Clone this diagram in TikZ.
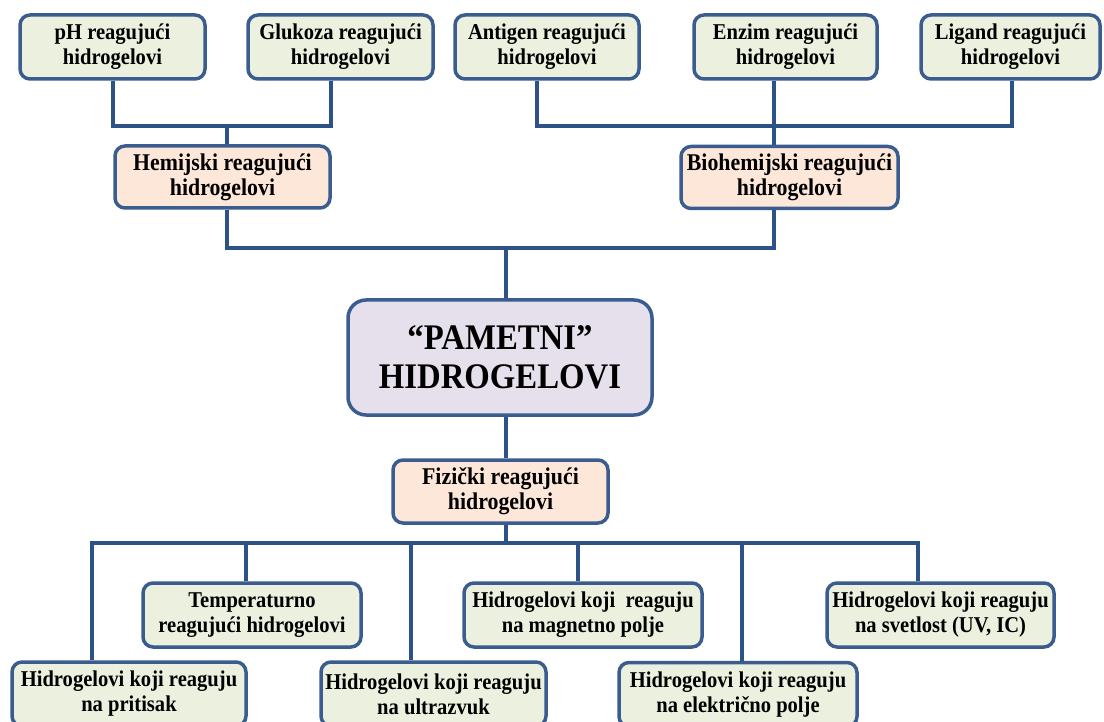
\documentclass[tikz,border=0pt]{standalone}
\usepackage{fontspec}
\setmainfont{Liberation Serif}[FakeStretch=0.91]
\usetikzlibrary{backgrounds}
\definecolor{ln}{RGB}{44,82,136}
\definecolor{bd}{RGB}{58,92,142}
\definecolor{gfill}{RGB}{235,241,222}
\definecolor{pfill}{RGB}{252,231,216}
\definecolor{lfill}{RGB}{229,224,236}
\begin{document}
\begin{tikzpicture}[x=1pt,y=-1pt,
  box/.style={draw=bd, line width=3.5pt, rounded corners=10pt, align=center, inner sep=0pt,
    font=\bfseries\fontsize{22.6}{25}\selectfont},
  gbox/.style={box, fill=gfill, minimum height=64pt},
  pbox/.style={box, fill=pfill, minimum height=62pt, font=\bfseries\fontsize{24}{25}\selectfont},
  mbox/.style={box, fill=lfill, rounded corners=18pt, font=\bfseries\fontsize{36}{39}\selectfont},
  conn/.style={draw=ln, line width=4pt, line join=miter}]
\useasboundingbox (0,0) rectangle (1104,722);
\clip (0,0) rectangle (1104,722);

% top row
\node[gbox, minimum width=185pt] (ph)  at (112.5,47) {pH reagujući\\hidrogelovi};
\node[gbox, minimum width=185pt] (glu) at (340.5,47) {Glukoza reagujući\\hidrogelovi};
\node[gbox, minimum width=184pt] (ant) at (547,47)   {Antigen reagujući\\hidrogelovi};
\node[gbox, minimum width=183pt] (enz) at (785.5,47) {Enzim reagujući\\hidrogelovi};
\node[gbox, minimum width=179pt] (lig) at (1010.5,47) {Ligand reagujući\\hidrogelovi};

% second level
\node[pbox, minimum width=215pt] (hem) at (222.5,177) {Hemijski reagujući\\hidrogelovi};
\node[pbox, minimum width=217pt] (bio) at (789.5,177.5) {Biohemijski reagujući\\hidrogelovi};

% centre
\node[mbox, minimum width=304pt, minimum height=115pt] (pam) at (500,357.5) {“PAMETNI”\\HIDROGELOVI};

% physical
\node[pbox, minimum width=215pt, minimum height=63pt] (fiz) at (500.5,491.5) {Fizički reagujući\\hidrogelovi};

% bottom
\node[gbox, minimum width=218pt] (temp)  at (252,615)   {Temperaturno\\reagujući hidrogelovi};
\node[gbox, minimum width=238pt] (mag)   at (583,615)   {Hidrogelovi koji~ reaguju\\na magnetno polje};
\node[gbox, minimum width=227pt] (svet)  at (940.5,615) {Hidrogelovi koji reaguju\\na svetlost (UV, IC)};
\node[gbox, minimum width=234pt] (prit)  at (129,694)   {Hidrogelovi koji reaguju\\na pritisak};
\node[gbox, minimum width=225pt] (ultra) at (433.5,694) {Hidrogelovi koji reaguju\\na ultrazvuk};
\node[gbox, minimum width=238pt] (elek)  at (738,694.5) {Hidrogelovi koji reaguju\\na električno polje};

% coordinates for connector lines
\coordinate (xph) at (113,0);
\coordinate (xglu) at (331,0);
\coordinate (xhem) at (227,0);
\coordinate (xant) at (537,0);
\coordinate (xenz) at (774,0);
\coordinate (xlig) at (1012,0);
\coordinate (xmid) at (506,0);
\coordinate (xprit) at (92,0);
\coordinate (xtemp) at (246,0);
\coordinate (xultra) at (411,0);
\coordinate (xmag) at (578,0);
\coordinate (xelek) at (742,0);
\coordinate (xsvet) at (918,0);
\coordinate (ytop) at (0,126);
\coordinate (ymid) at (0,248);
\coordinate (ybot) at (0,543);

\begin{scope}[on background layer]
\draw[conn] (ph.south -| xph) -- (ytop -| xph) -- (ytop -| xglu) -- (glu.south -| xglu);
\draw[conn] (ytop -| xhem) -- (hem.north -| xhem);
\draw[conn] (ant.south -| xant) -- (ytop -| xant) -- (ytop -| xlig) -- (lig.south -| xlig);
\draw[conn] (enz.south -| xenz) -- (bio.north -| xenz);
\draw[conn] (hem.south -| xhem) -- (ymid -| xhem) -- (ymid -| xenz) -- (bio.south -| xenz);
\draw[conn] (ymid -| xmid) -- (pam.north -| xmid);
\draw[conn] (pam.south -| xmid) -- (fiz.north -| xmid);
\draw[conn] (fiz.south -| xmid) -- (ybot -| xmid);
\draw[conn] (prit.north -| xprit) -- (ybot -| xprit) -- (ybot -| xsvet) -- (svet.north -| xsvet);
\draw[conn] (ybot -| xtemp) -- (temp.north -| xtemp);
\draw[conn] (ybot -| xultra) -- (ultra.north -| xultra);
\draw[conn] (ybot -| xmag) -- (mag.north -| xmag);
\draw[conn] (ybot -| xelek) -- (elek.north -| xelek);
\end{scope}
\end{tikzpicture}
\end{document}
